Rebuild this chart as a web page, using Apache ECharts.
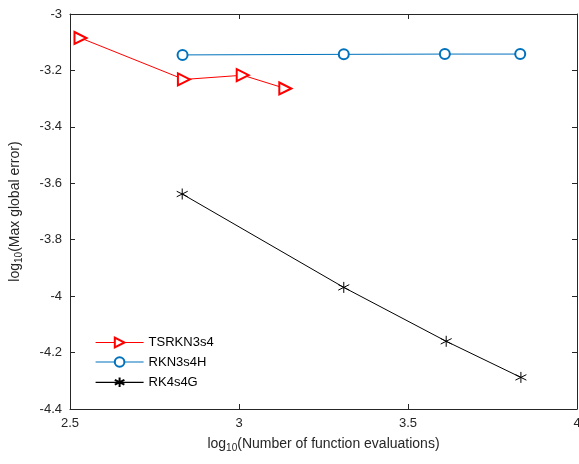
<!DOCTYPE html>
<html><head><meta charset="utf-8">
<script src="https://cdn.jsdelivr.net/npm/echarts@6/dist/echarts.min.js"></script>
<style>html,body{margin:0;padding:0;background:#fff;overflow:hidden}#c{width:579px;height:464px}</style>
</head><body><div id="c"></div>
<script>
const tsrX = [2.531, 2.837, 3.011, 3.137];
const tsrY = [-3.085, -3.232, -3.217, -3.264];
const rknX = [2.833, 3.310, 3.609, 3.832];
const rknY = [-3.145, -3.143, -3.142, -3.142];
const rk4X = [2.832, 3.310, 3.613, 3.834];
const rk4Y = [-3.638, -3.969, -4.160, -4.288];
const names = ['TSRKN3s4', 'RKN3s4H', 'RK4s4G'];

const pairs = (xs, ys) => xs.map((x, i) => [x, ys[i]]);
const axisCol = '#262626';
const font = 'Liberation Sans, Arial, sans-serif';
const star = 'path://M0,-1L0,1M-0.866,-0.5L0.866,0.5M-0.866,0.5L0.866,-0.5';

const chart = echarts.init(document.getElementById('c'), null, {renderer: 'canvas', width: 579, height: 464});
const baseAxis = {
  axisLine: {show: true, onZero: false, lineStyle: {color: axisCol, width: 1}},
  axisTick: {show: true, inside: true, length: 5, lineStyle: {color: axisCol}},
  splitLine: {show: false},
};
chart.setOption({
  animation: false,
  backgroundColor: '#fff',
  textStyle: {fontFamily: font},
  grid: {left: 70, right: 2, top: 14, bottom: 55, containLabel: false, outerBoundsMode: 'none'},
  legend: {
    orient: 'vertical', left: 90, top: 331, itemWidth: 48, itemHeight: 12, itemGap: 6.5,
    textStyle: {fontFamily: font, fontSize: 13, color: '#000'},
    lineStyle: {width: 1.2},
    data: names
  },
  xAxis: [
    Object.assign({}, baseAxis, {
      type: 'value', min: 2.5, max: 4, interval: 0.5, position: 'bottom',
      axisLabel: {color: axisCol, fontSize: 13, fontFamily: font, margin: 8},
      name: '{n|log}{s|10}{n|(Number of function evaluations)}', nameLocation: 'middle', nameGap: 26,
      nameTextStyle: {rich: {n: {fontSize: 14, color: axisCol, fontFamily: font}, s: {fontSize: 10, color: axisCol, fontFamily: font, padding: [8, 0, 0, 0]}}}
    }),
    Object.assign({}, baseAxis, {
      type: 'value', min: 2.5, max: 4, interval: 0.5, position: 'top', axisLabel: {show: false}
    })
  ],
  yAxis: [
    Object.assign({}, baseAxis, {
      type: 'value', min: -4.4, max: -3, interval: 0.2, position: 'left',
      axisLabel: {color: axisCol, fontSize: 13, fontFamily: font, margin: 8},
      name: '{n|log}{s|10}{n|(Max global error)}', nameLocation: 'middle', nameGap: 46,
      nameTextStyle: {rich: {n: {fontSize: 14, color: axisCol, fontFamily: font}, s: {fontSize: 10, color: axisCol, fontFamily: font, padding: [8, 0, 0, 0]}}}
    }),
    Object.assign({}, baseAxis, {
      type: 'value', min: -4.4, max: -3, interval: 0.2, position: 'right', axisLabel: {show: false}
    })
  ],
  series: [
    {name: names[0], type: 'line', data: pairs(tsrX, tsrY), symbol: 'emptyTriangle', symbolRotate: -90, symbolSize: 12,
     lineStyle: {color: '#ff0000', width: 1}, itemStyle: {color: '#ff0000', borderWidth: 1}},
    {name: names[1], type: 'line', data: pairs(rknX, rknY), symbol: 'emptyCircle', symbolSize: 10,
     lineStyle: {color: '#0072bd', width: 1}, itemStyle: {color: '#0072bd', borderWidth: 1}},
    {name: names[2], type: 'line', data: pairs(rk4X, rk4Y), symbol: star, symbolSize: 11,
     lineStyle: {color: '#000', width: 1}, itemStyle: {color: 'none', borderColor: '#000', borderWidth: 1}}
  ]
});
</script></body></html>
